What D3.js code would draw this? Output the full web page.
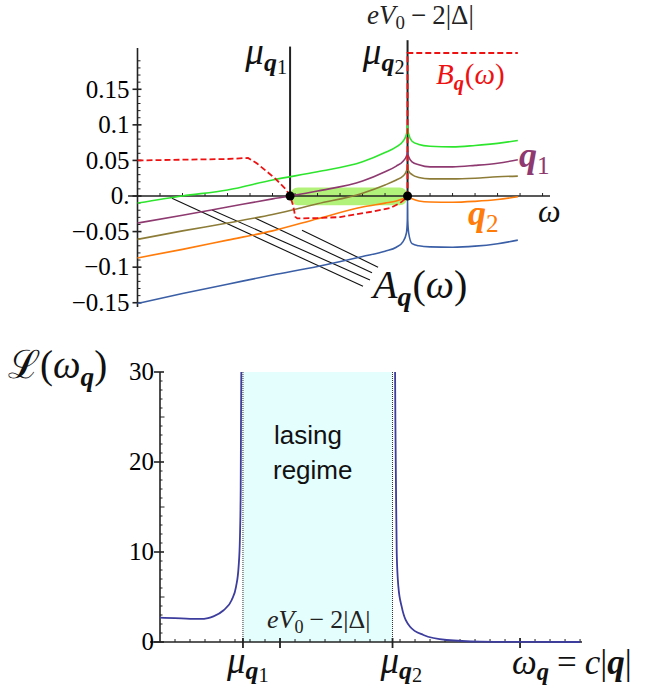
<!DOCTYPE html>
<html><head><meta charset="utf-8">
<script src="https://cdn.jsdelivr.net/npm/d3@7"></script>
<style>body{margin:0;background:#fff} svg{display:block}</style>
</head><body><svg id="c" width="660" height="690" font-family="Liberation Serif, serif"></svg>
<script>
// ---------- TOP PANEL DATA ----------
const omega = [0,2,4,6,8,10,11,11.5,11.8,11.95,11.99,12,12.01,12.05,12.2,12.5,13,14,15,16,16.9];
const greenVals  = [-0.010,0.000,0.0085,0.0225,0.034,0.048,0.061,0.069,0.077,0.087,0.095,0.100,0.095,0.087,0.077,0.0725,0.070,0.069,0.071,0.074,0.078];
const purpleVals = [-0.038,-0.027,-0.0155,-0.004,0.007,0.021,0.034,0.042,0.049,0.056,0.060,0.063,0.060,0.055,0.048,0.044,0.041,0.041,0.043,0.046,0.051];
const oliveVals  = [-0.061,-0.049,-0.038,-0.026,-0.011,0.004,0.0155,0.0225,0.028,0.035,0.040,0.044,0.040,0.035,0.030,0.026,0.024,0.024,0.025,0.027,0.028];
const orangeVals = [-0.087,-0.075,-0.062,-0.049,-0.032,-0.0155,-0.010,-0.007,-0.004,-0.002,-0.001,0.000,-0.001,-0.0015,-0.004,-0.007,-0.0085,-0.0088,-0.0075,-0.005,-0.001];
const blueVals   = [-0.151,-0.137,-0.124,-0.111,-0.099,-0.085,-0.0775,-0.072,-0.064,-0.052,-0.035,-0.002,-0.035,-0.052,-0.067,-0.070,-0.0715,-0.072,-0.0705,-0.067,-0.062];
const curveColors = ["#2ee52e","#8e3a70","#8c7c38","#ff7b0a","#3b5fa6"];
const bOmega  = [0,2,4,4.91,5.3,5.76,6.1,6.33,6.6,6.78,6.9,6.97,7.0,7.1,8,9,10.33,11.22,11.67,11.89,11.98,12.0,12.0,16.9];
const bValues = [0.050,0.051,0.052,0.0535,0.046,0.034,0.025,0.018,0.009,0.0,-0.012,-0.022,-0.029,-0.0315,-0.031,-0.0296,-0.0225,-0.017,-0.0099,-0.0042,0.0,0.0,0.201,0.201];
const muQ1 = 6.78, muQ2 = 12.0;
const yTickValues = [0.15,0.1,0.05,0,-0.05,-0.1,-0.15];
const yTickLabels = ["0.15","0.1","0.05","0.","\u22120.05","\u22120.1","\u22120.15"];
const pointerStart = [[1.53,-0.003],[3.31,-0.0197],[5.22,-0.031],[7.31,-0.048]];
const pointerEnd   = [[10.02,-0.127],[10.33,-0.118],[10.42,-0.108],[10.69,-0.100]];

// ---------- BOTTOM PANEL DATA ----------
const lOmegaLeft  = [0,1,2,2.67,3.2,3.56,4.22,4.78,5.07,5.24,5.33,5.38,5.40,5.42];
const lValuesLeft = [2.70,2.65,2.57,2.56,2.66,2.85,3.5,4.67,6.15,8.37,11.7,17.3,24.4,30];
const lOmegaRight  = [15.67,15.69,15.73,15.78,15.89,16.11,16.67,17.56,19.11,21.33,24,28];
const lValuesRight = [30,24.6,17.3,9.86,6.15,3.93,1.70,0.78,0.22,0.04,0.01,0.0];
const muB1 = 5.53, muB2 = 15.5;
const bottomYTicks = [0,10,20,30];
const bottomXMajor = [8,24];

const svg = d3.select("#c");

// ---------- scales ----------
const xT = d3.scaleLinear().domain([0,18.33]).range([137.5,550]);
const yT = d3.scaleLinear().domain([-0.156,0.208]).range([307,48]);
const xB = d3.scaleLinear().domain([0,28.13]).range([160,582]);
const yB = d3.scaleLinear().domain([0,30]).range([642,372]);

function rich(x,y,anchor,size,color,parts){
  const t = svg.append("text").attr("x",x).attr("y",y).attr("text-anchor",anchor)
    .attr("font-size",size).attr("fill",color);
  parts.forEach(p=>{
    const s = t.append("tspan").text(p.t)
     .attr("font-style",p.i?"italic":"normal")
     .attr("font-weight",p.b?"bold":"normal")
     .attr("font-size",size*(p.s||1))
     .attr("dy",p.dy||0);
    if(p.dx) s.attr("dx",p.dx);
  });
  return t;
}

// ---------- TOP PANEL ----------
const gT = svg.append("g");
gT.append("rect").attr("x",xT(muQ1)).attr("y",yT(0.012))
  .attr("width",xT(muQ2)-xT(muQ1)).attr("height",yT(-0.013)-yT(0.012))
  .attr("rx",8).attr("fill","#b3f27a");
gT.append("line").attr("x1",xT(-0.42)).attr("x2",xT(18.33)).attr("y1",yT(0)).attr("y2",yT(0))
  .attr("stroke","#222").attr("stroke-width",1.6);
gT.append("line").attr("x1",xT(0)).attr("x2",xT(0)).attr("y1",yT(0.208)).attr("y2",yT(-0.156))
  .attr("stroke","#222").attr("stroke-width",1.6);
d3.range(1,19).forEach(k=>{
  gT.append("line").attr("x1",xT(k)).attr("x2",xT(k)).attr("y1",yT(0)).attr("y2",yT(0)-3)
    .attr("stroke","#222").attr("stroke-width",1);
});
d3.range(-15,21).forEach(k=>{
  const v=k/100;
  if(k%5===0) return;
  gT.append("line").attr("x1",xT(0)).attr("x2",xT(0)+3).attr("y1",yT(v)).attr("y2",yT(v))
    .attr("stroke","#222").attr("stroke-width",1);
});
yTickValues.forEach((v,i)=>{
  gT.append("line").attr("x1",xT(0)-5).attr("x2",xT(0)+4).attr("y1",yT(v)).attr("y2",yT(v))
    .attr("stroke","#222").attr("stroke-width",1.6);
  gT.append("text").attr("x",xT(0)-8).attr("y",yT(v)).attr("dy","0.33em")
    .attr("text-anchor","end").attr("font-size",25).text(yTickLabels[i]);
});
gT.append("line").attr("x1",xT(muQ1)).attr("x2",xT(muQ1)).attr("y1",yT(0)).attr("y2",yT(0.210))
  .attr("stroke","#222").attr("stroke-width",2);
gT.append("line").attr("x1",xT(muQ2)).attr("x2",xT(muQ2)).attr("y1",yT(0)).attr("y2",yT(0.219))
  .attr("stroke","#222").attr("stroke-width",2);
pointerStart.forEach((s,i)=>{
  const e=pointerEnd[i];
  gT.append("line").attr("x1",xT(s[0])).attr("y1",yT(s[1])).attr("x2",xT(e[0])).attr("y2",yT(e[1]))
    .attr("stroke","#111").attr("stroke-width",1.1);
});
const lineT = d3.line().x(d=>xT(d[0])).y(d=>yT(d[1])).curve(d3.curveMonotoneX);
[greenVals,purpleVals,oliveVals,orangeVals,blueVals].forEach((vals,i)=>{
  gT.append("path").datum(omega.map((w,j)=>[w,vals[j]])).attr("d",lineT)
    .attr("fill","none").attr("stroke",curveColors[i]).attr("stroke-width",1.6);
});
const lineB = d3.line().x(d=>xT(d[0])).y(d=>yT(d[1]));
gT.append("path").datum(bOmega.map((w,j)=>[w,bValues[j]])).attr("d",lineB)
  .attr("fill","none").attr("stroke","#ee1111").attr("stroke-width",1.8)
  .attr("stroke-dasharray","6,3");
[muQ1,muQ2].forEach(m=>{
  gT.append("circle").attr("cx",xT(m)).attr("cy",yT(0)).attr("r",4.5).attr("fill","#000");
});
// labels top
rich(367,24,"start",27,"#222",[{t:"e",i:1},{t:"V",i:1},{t:"0",s:0.7,dy:5},{t:"\u2212",dy:-5,dx:6},{t:"2|\u0394|",dx:6}]);
rich(xT(muQ1)-3,64,"end",37,"#111",[{t:"\u03bc",i:1},{t:"q",i:1,b:1,s:0.7,dy:7},{t:"1",s:0.55,dy:3}]);
rich(xT(muQ2)-3,64,"end",37,"#111",[{t:"\u03bc",i:1},{t:"q",i:1,b:1,s:0.7,dy:7},{t:"2",s:0.55,dy:3}]);
rich(436,84,"start",29,"#ee1111",[{t:"B",i:1},{t:"q",i:1,b:1,s:0.7,dy:6},{t:"(",dy:-6,dx:1},{t:"\u03c9",i:1},{t:")"}]);
rich(519,167,"start",36,"#8e3a70",[{t:"q",i:1,b:1},{t:"1",s:0.7,dy:7}]);
rich(468,225,"start",36,"#ff7b0a",[{t:"q",i:1,b:1},{t:"2",s:0.7,dy:7}]);
rich(538,222,"start",32,"#111",[{t:"\u03c9",i:1}]);
rich(373,298,"start",40,"#111",[{t:"A",i:1},{t:"q",i:1,b:1,s:0.7,dy:8},{t:"(",dy:-8,dx:1},{t:"\u03c9",i:1},{t:")"}]);

// ---------- BOTTOM PANEL ----------
const gB = svg.append("g");
gB.append("rect").attr("x",xB(muB1)).attr("y",yB(30)).attr("width",xB(muB2)-xB(muB1))
  .attr("height",yB(0)-yB(30)).attr("fill","#e4fdfd");
[muB1,muB2].forEach(m=>{
  gB.append("line").attr("x1",xB(m)).attr("x2",xB(m)).attr("y1",yB(30)).attr("y2",yB(0))
    .attr("stroke","#333").attr("stroke-width",1).attr("stroke-dasharray","1,1");
});
gB.append("line").attr("x1",150).attr("x2",xB(28.13)).attr("y1",yB(0)).attr("y2",yB(0))
  .attr("stroke","#222").attr("stroke-width",1.6);
gB.append("line").attr("x1",xB(0)).attr("x2",xB(0)).attr("y1",yB(30)).attr("y2",yB(0))
  .attr("stroke","#222").attr("stroke-width",1.6);
d3.range(1,29).forEach(k=>{
  if(bottomXMajor.includes(k)) return;
  gB.append("line").attr("x1",xB(k)).attr("x2",xB(k)).attr("y1",yB(0)).attr("y2",yB(0)-3)
    .attr("stroke","#222").attr("stroke-width",1);
});
bottomXMajor.concat([muB1,muB2]).forEach(k=>{
  gB.append("line").attr("x1",xB(k)).attr("x2",xB(k)).attr("y1",yB(0)+6).attr("y2",yB(0)-4)
    .attr("stroke","#222").attr("stroke-width",1.8);
});
d3.range(1,30).forEach(k=>{
  if(k%10===0) return;
  const len = k%5===0?4.5:2.5;
  gB.append("line").attr("x1",xB(0)).attr("x2",xB(0)+len).attr("y1",yB(k)).attr("y2",yB(k))
    .attr("stroke","#222").attr("stroke-width",1);
});
bottomYTicks.forEach(v=>{
  gB.append("line").attr("x1",xB(0)-6).attr("x2",xB(0)+4).attr("y1",yB(v)).attr("y2",yB(v))
    .attr("stroke","#222").attr("stroke-width",1.6);
  gB.append("text").attr("x",xB(0)-6).attr("y",yB(v)).attr("dy","0.33em")
    .attr("text-anchor","end").attr("font-size",25).text(String(v));
});
const lineL = d3.line().x(d=>xB(d[0])).y(d=>yB(d[1])).curve(d3.curveMonotoneX);
[[lOmegaLeft,lValuesLeft],[lOmegaRight,lValuesRight]].forEach(([ws,vs])=>{
  gB.append("path").datum(ws.map((w,j)=>[w,vs[j]])).attr("d",lineL)
    .attr("fill","none").attr("stroke","#3d3d9e").attr("stroke-width",1.8);
});
gB.append("text").attr("x",274).attr("y",444).style("font-family","'Liberation Sans', sans-serif")
  .attr("font-size",26).attr("fill","#111").text("lasing");
gB.append("text").attr("x",273).attr("y",479).style("font-family","'Liberation Sans', sans-serif")
  .attr("font-size",26).attr("fill","#111").text("regime");
rich(267,628,"start",26,"#222",[{t:"e",i:1},{t:"V",i:1},{t:"0",s:0.7,dy:5},{t:"\u2212",dy:-5,dx:6},{t:"2|\u0394|",dx:6}]);
rich(8,378,"start",39,"#111",[{t:"\u2112"},{t:"(",},{t:"\u03c9",i:1},{t:"q",i:1,b:1,s:0.7,dy:8},{t:")",dy:-8}]);
rich(xB(muB1)-16,673,"start",37,"#111",[{t:"\u03bc",i:1},{t:"q",i:1,b:1,s:0.7,dy:6},{t:"1",s:0.55,dy:3}]);
rich(xB(muB2)-12,673,"start",37,"#111",[{t:"\u03bc",i:1},{t:"q",i:1,b:1,s:0.7,dy:6},{t:"2",s:0.55,dy:3}]);
rich(512,674,"start",35,"#111",[{t:"\u03c9",i:1},{t:"q",i:1,b:1,s:0.7,dy:6},{t:"=",dy:-6,dx:8},{t:"c",i:1,dx:8},{t:"|"},{t:"q",i:1,b:1},{t:"|"}]);
</script></body></html>
